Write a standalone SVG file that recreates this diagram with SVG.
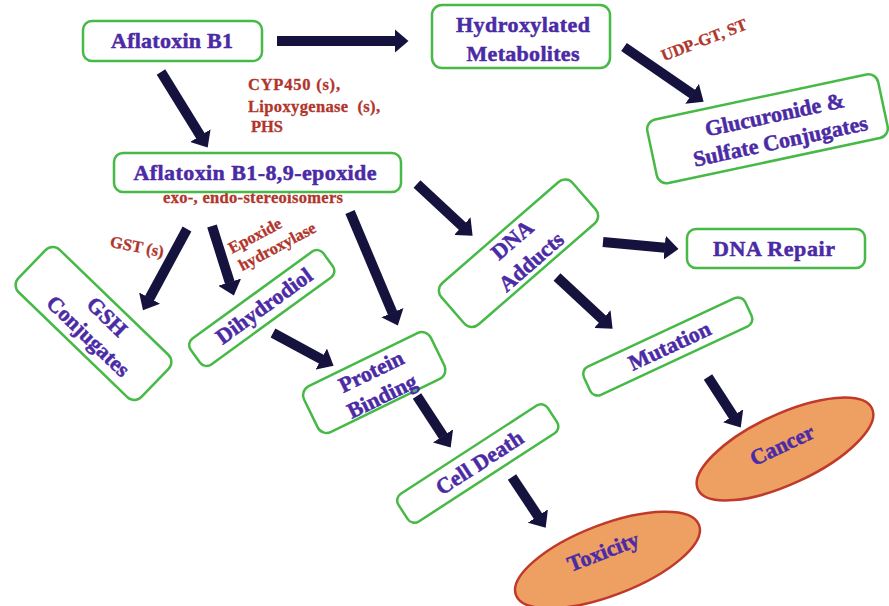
<svg xmlns="http://www.w3.org/2000/svg" width="889" height="606" viewBox="0 0 889 606">
  <defs>
    <marker id="head" markerUnits="userSpaceOnUse" markerWidth="14" markerHeight="24" viewBox="0 0 14 24" refX="0.5" refY="12" orient="auto">
      <path d="M0,0 L14,12 L0,24 Z" fill="#15123e"/>
    </marker>
    <style>
      .box { fill:#ffffff; stroke:#46b946; stroke-width:2.5; }
      .oval { fill:#eea062; stroke:#c03a2b; stroke-width:2.5; }
      .lbl { font-family:"Liberation Serif","DejaVu Serif",serif; font-weight:bold; font-size:22px; fill:#4b2aa5; stroke:#4b2aa5; stroke-width:0.5; text-anchor:middle; }
      .enz { font-family:"Liberation Serif","DejaVu Serif",serif; font-weight:bold; font-size:16.5px; fill:#b0352c; stroke:#b0352c; stroke-width:0.3; }
      .arr { stroke:#15123e; stroke-width:10; fill:none; marker-end:url(#head); }
    </style>
  </defs>

  <rect width="889" height="606" fill="#ffffff"/>

  <!-- connectors: each line stops at the base of its arrowhead -->
  <g id="connectors">
    <line class="arr" x1="277" y1="41" x2="395" y2="41"/>
    <line class="arr" x1="161" y1="72" x2="200.6" y2="136.1"/>
    <line class="arr" x1="624" y1="47" x2="692.5" y2="94.1"/>
    <line class="arr" x1="187" y1="229" x2="149.4" y2="298.5"/>
    <line class="arr" x1="212" y1="226" x2="229.8" y2="282.6"/>
    <line class="arr" x1="350" y1="212" x2="392.6" y2="313.1"/>
    <line class="arr" x1="417" y1="184" x2="462.7" y2="226.5"/>
    <line class="arr" x1="273" y1="333" x2="321.7" y2="359.3"/>
    <line class="arr" x1="603" y1="242" x2="665.1" y2="247.7"/>
    <line class="arr" x1="557" y1="277" x2="602.7" y2="319.5"/>
    <line class="arr" x1="417" y1="396" x2="443.3" y2="436.3"/>
    <line class="arr" x1="512" y1="477" x2="538.2" y2="516.4"/>
    <line class="arr" x1="708" y1="377" x2="733.4" y2="416.2"/>
  </g>

  <!-- enzyme annotations -->
  <g id="enzymes">
    <text class="enz" x="248" y="90" textLength="92">CYP450 (s),</text>
    <text class="enz" x="248" y="112" textLength="132" style="white-space:pre">Lipoxygenase  (s),</text>
    <text class="enz" x="251" y="132" textLength="32">PHS</text>
    <text class="enz" x="253" y="203" font-size="15" text-anchor="middle" textLength="180">exo-, endo-stereoisomers</text>
    <text class="enz" text-anchor="middle" transform="translate(706,45) rotate(-21)">UDP-GT, ST</text>
    <text class="enz" text-anchor="middle" transform="translate(136,252) rotate(11)">GST (s)</text>
    <g transform="translate(232,254) rotate(-28)">
      <text class="enz" x="0" y="0">Epoxide</text>
      <text class="enz" x="1" y="20">hydroxylase</text>
    </g>
  </g>

  <g id="aflatoxin-b1">
    <rect class="box" x="83" y="21" width="179" height="40" rx="9"/>
    <text class="lbl" x="172" y="48" textLength="122">Aflatoxin B1</text>
  </g>

  <g id="hydroxylated-metabolites">
    <rect class="box" x="432" y="5" width="178" height="63" rx="10"/>
    <text class="lbl" x="523" y="32" textLength="134">Hydroxylated</text>
    <text class="lbl" x="523" y="61" textLength="113">Metabolites</text>
  </g>

  <g id="glucuronide-sulfate" transform="translate(767.5,128.75) rotate(-12)">
    <rect class="box" x="-118" y="-32.5" width="236" height="65" rx="10"/>
    <text class="lbl" x="10" y="-5">Glucuronide &amp;</text>
    <text class="lbl" x="10" y="22">Sulfate Conjugates</text>
  </g>

  <g id="epoxide">
    <rect class="box" x="114" y="153" width="287" height="39" rx="9"/>
    <text class="lbl" x="255" y="180" textLength="243">Aflatoxin B1-8,9-epoxide</text>
  </g>

  <g id="gsh-conjugates" transform="translate(93.5,323.5) rotate(44)">
    <rect class="box" x="-85.5" y="-29.5" width="171" height="59" rx="10"/>
    <text class="lbl" x="5" y="-7">GSH</text>
    <text class="lbl" x="5" y="20">Conjugates</text>
  </g>

  <g id="dihydrodiol" transform="translate(261.75,308) rotate(-36)">
    <rect class="box" x="-82" y="-16" width="164" height="32" rx="8"/>
    <text class="lbl" x="3" y="7">Dihydrodiol</text>
  </g>

  <g id="protein-binding" transform="translate(374.25,382.5) rotate(-26)">
    <rect class="box" x="-70.5" y="-25.5" width="141" height="51" rx="10"/>
    <text class="lbl" x="2" y="-4">Protein</text>
    <text class="lbl" x="1" y="23">Binding</text>
  </g>

  <g id="dna-adducts" transform="translate(518.5,253.25) rotate(-41)">
    <rect class="box" x="-87" y="-27.5" width="174" height="55" rx="10"/>
    <text class="lbl" x="4" y="-7">DNA</text>
    <text class="lbl" x="4" y="22">Adducts</text>
  </g>

  <g id="dna-repair">
    <rect class="box" x="687" y="229" width="178" height="39" rx="9"/>
    <text class="lbl" x="774" y="256" textLength="122">DNA Repair</text>
  </g>

  <g id="mutation" transform="translate(667.75,346.5) rotate(-25)">
    <rect class="box" x="-89" y="-15.5" width="178" height="31" rx="8"/>
    <text class="lbl" x="2" y="7.5">Mutation</text>
  </g>

  <g id="cell-death" transform="translate(477.75,463.5) rotate(-33)">
    <rect class="box" x="-89" y="-16.5" width="178" height="33" rx="8"/>
    <text class="lbl" x="2" y="7.5">Cell Death</text>
  </g>

  <g id="cancer" transform="translate(785,449) rotate(-25)">
    <ellipse class="oval" cx="0" cy="0" rx="96" ry="35"/>
    <text class="lbl" x="-1" y="2.5">Cancer</text>
  </g>

  <g id="toxicity" transform="translate(607.5,560) rotate(-21)">
    <ellipse class="oval" cx="0" cy="0" rx="98" ry="35.5"/>
    <text class="lbl" x="-1" y="-2">Toxicity</text>
  </g>
</svg>
